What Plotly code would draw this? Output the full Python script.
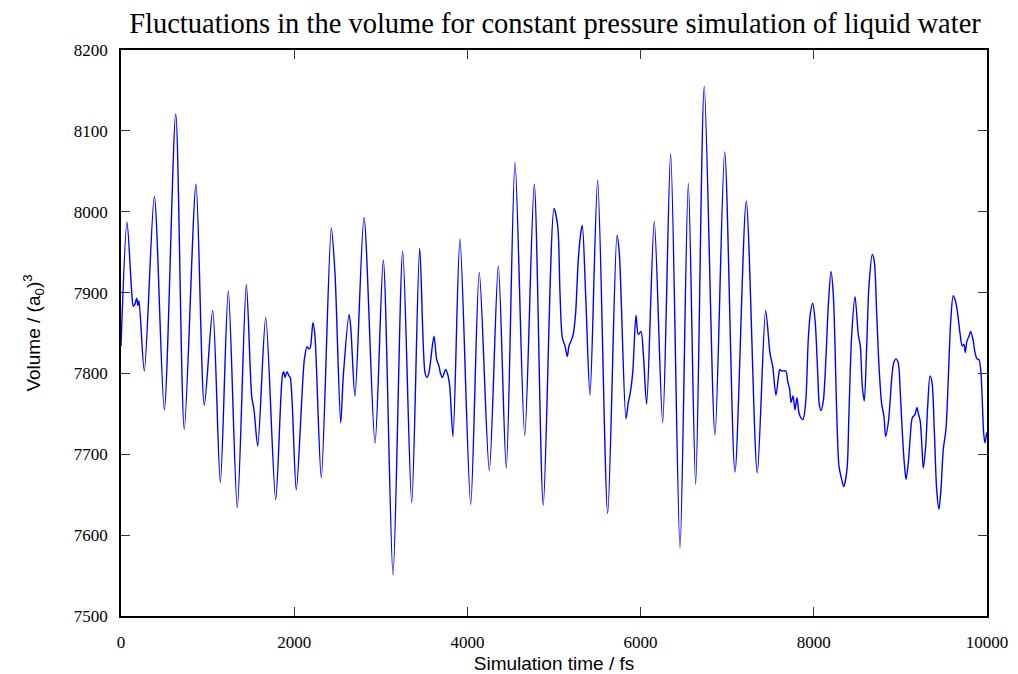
import plotly.graph_objects as go

# Simulation time (fs) and volume (a0^3)
time_fs = [0, 69, 124, 142, 162, 181, 196, 208, 269, 385, 500, 632, 731, 866, 962, 1059, 1147, 1239,
           1343, 1447, 1509, 1536, 1579, 1671, 1786, 1863, 1879, 1894, 1917, 1940, 1955, 2024, 2117,
           2148, 2171, 2186, 2217, 2240, 2313, 2428, 2471, 2537, 2567, 2633, 2653, 2702, 2806, 2933,
           3029, 3141, 3253, 3357, 3449, 3510, 3533, 3556, 3614, 3645, 3672, 3687, 3710, 3749, 3772,
           3795, 3834, 3914, 4038, 4137, 4253, 4357, 4449, 4550, 4662, 4772, 4876, 5000, 5043, 5069,
           5096, 5127, 5154, 5173, 5204, 5225, 5250, 5281, 5312, 5327, 5366, 5416, 5504, 5620, 5727,
           5754, 5831, 5858, 5881, 5909, 5947, 5973, 6004, 6031, 6070, 6158, 6255, 6347, 6455, 6551,
           6636, 6735, 6859, 6971, 7090, 7220, 7347, 7444, 7494, 7525, 7563, 7601, 7610, 7629, 7676,
           7699, 7722, 7737, 7760, 7783, 7806, 7829, 7852, 7875, 7906, 7936, 7959, 7987, 8014, 8045,
           8063, 8083, 8110, 8141, 8167, 8199, 8226, 8265, 8291, 8322, 8345, 8383, 8406, 8437, 8476,
           8514, 8537, 8560, 8583, 8611, 8637, 8675, 8698, 8726, 8753, 8784, 8810, 8830, 8860, 8880,
           8899, 8922, 8949, 8975, 8999, 9022, 9045, 9065, 9091, 9114, 9137, 9168, 9191, 9206, 9229,
           9252, 9264, 9292, 9315, 9342, 9364, 9391, 9419, 9445, 9468, 9495, 9526, 9553, 9580, 9610,
           9637, 9660, 9688, 9714, 9734, 9749, 9768, 9792, 9811, 9838, 9861, 9884, 9907, 9927, 9945,
           9961, 9977, 9997]
volume = [7834, 7987, 7900, 7883, 7886, 7893, 7884, 7890, 7803, 8019, 7755, 8121, 7731, 8034, 7761, 7878,
          7665, 7902, 7634, 7910, 7772, 7755, 7710, 7869, 7644, 7797, 7802, 7795, 7802, 7797, 7795,
          7656, 7817, 7833, 7830, 7832, 7863, 7846, 7671, 7980, 7924, 7739, 7797, 7873, 7857, 7772,
          7993, 7714, 7940, 7551, 7951, 7640, 7955, 7801, 7795, 7801, 7846, 7817, 7809, 7801, 7795,
          7805, 7799, 7785, 7722, 7966, 7638, 7925, 7680, 7933, 7683, 8061, 7723, 8034, 7637, 8004,
          7982, 7900, 7844, 7834, 7821, 7834, 7842, 7850, 7875, 7941, 7976, 7983, 7896, 7773, 8039,
          7627, 7971, 7949, 7744, 7764, 7776, 7801, 7872, 7848, 7852, 7825, 7762, 7988, 7739, 8072,
          7584, 8035, 7663, 8155, 7724, 8074, 7678, 8013, 7677, 7878, 7825, 7809, 7773, 7803, 7805,
          7803, 7803, 7790, 7780, 7764, 7772, 7755, 7770, 7751, 7745, 7743, 7764, 7842, 7873, 7887,
          7867, 7801, 7762, 7754, 7766, 7821, 7883, 7926, 7896, 7751, 7685, 7669, 7660, 7681, 7751,
          7846, 7895, 7848, 7834, 7784, 7766, 7834, 7908, 7947, 7939, 7875, 7809, 7762, 7747, 7722,
          7739, 7764, 7793, 7813, 7818, 7813, 7776, 7727, 7689, 7669, 7689, 7722, 7745, 7749, 7758,
          7751, 7741, 7702, 7683, 7710, 7759, 7797, 7790, 7731, 7656, 7632, 7656, 7706, 7731, 7793,
          7863, 7896, 7889, 7875, 7850, 7834, 7836, 7826, 7840, 7846, 7852, 7842, 7826, 7818, 7817,
          7805, 7768, 7727, 7714, 7727]

x_ticks = [0, 2000, 4000, 6000, 8000, 10000]
y_ticks = [7500, 7600, 7700, 7800, 7900, 8000, 8100, 8200]

fig = go.Figure()
fig.add_trace(go.Scatter(x=time_fs, y=volume, mode="lines",
                         line=dict(color="#0000ff", width=1.4, shape="spline", smoothing=0.8),
                         showlegend=False))

axis_common = dict(showline=True, linecolor="black", linewidth=1.5, mirror="ticks",
                   ticks="inside", ticklen=9, tickwidth=1, tickcolor="#333333",
                   showgrid=False, zeroline=False, automargin=False,
                   tickfont=dict(family="Liberation Serif", size=17, color="black"))

fig.update_layout(
    width=1018, height=674,
    margin=dict(l=121, r=31, t=50, b=58),
    plot_bgcolor="white", paper_bgcolor="white",
    title=dict(text="Fluctuations in the volume for constant pressure simulation of liquid water",
               x=555 / 1018, xanchor="center", y=1 - 23 / 674, yanchor="middle",
               font=dict(family="Liberation Serif", size=28.5, color="black")),
    xaxis=dict(range=[0, 10000], tickvals=x_ticks, ticktext=[str(v) for v in x_ticks],
               ticklabelstandoff=10,
               title=dict(text="Simulation time / fs", standoff=6,
                          font=dict(family="Liberation Sans", size=19, color="black")),
               **axis_common),
    yaxis=dict(range=[7500, 8200], tickvals=y_ticks, ticktext=[str(v) for v in y_ticks],
               ticklabelstandoff=8,
               title=dict(text="Volume / (a<sub>0</sub>)<sup>3</sup>", standoff=28,
                          font=dict(family="Liberation Sans", size=19, color="black")),
               **axis_common),
)

fig.write_html("out.html")
